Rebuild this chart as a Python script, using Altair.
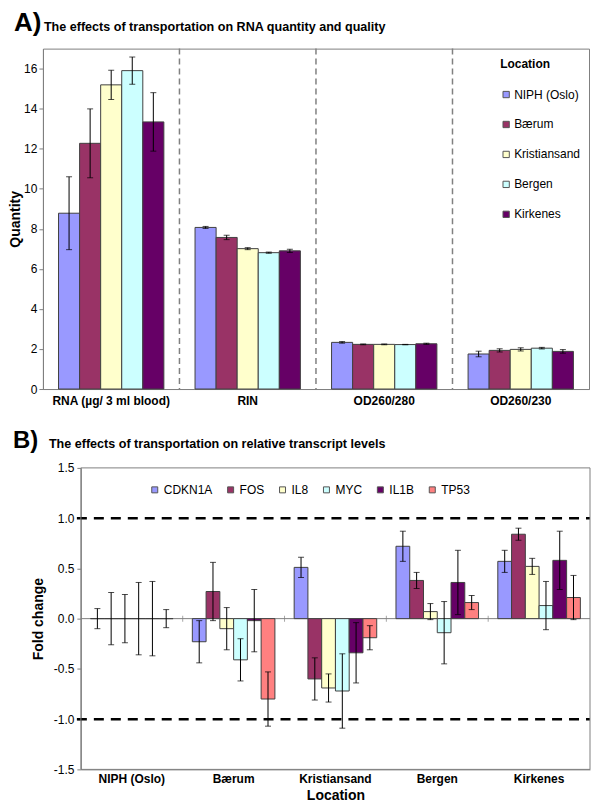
import altair as alt
import pandas as pd

FONT = "Liberation Sans"

# ---------------- Panel A data ----------------
measures = ["RNA (µg/ 3 ml blood)", "RIN", "OD260/280", "OD260/230"]
locations = ["NIPH (Oslo)", "Bærum", "Kristiansand", "Bergen", "Kirkenes"]
location_colors = ["#9999FF", "#993366", "#FFFFCC", "#CCFFFF", "#660066"]

rna_mean = [8.78, 12.27, 15.19, 15.90, 13.34]
rna_err = [1.82, 1.72, 0.73, 0.68, 1.46]
rin_mean = [8.07, 7.57, 7.01, 6.81, 6.90]
rin_err = [0.05, 0.11, 0.05, 0.03, 0.08]
od280_mean = [2.33, 2.23, 2.23, 2.22, 2.26]
od280_err = [0.04, 0.02, 0.02, 0.01, 0.03]
od230_mean = [1.75, 1.93, 1.98, 2.04, 1.88]
od230_err = [0.14, 0.08, 0.08, 0.04, 0.09]
quantity_ticks = [0, 2, 4, 6, 8, 10, 12, 14, 16]

# ---------------- Panel B data ----------------
genes = ["CDKN1A", "FOS", "IL8", "MYC", "IL1B", "TP53"]
gene_colors = ["#9999FF", "#993366", "#FFFFCC", "#CCFFFF", "#660066", "#FF8080"]
fold_niph = [0.0, 0.0, 0.0, 0.0, 0.0, 0.0]
err_niph = [0.10, 0.26, 0.24, 0.36, 0.37, 0.09]
fold_baerum = [-0.23, 0.27, -0.10, -0.41, -0.02, -0.80]
err_baerum = [0.21, 0.29, 0.21, 0.21, 0.31, 0.27]
fold_krs = [0.51, -0.60, -0.69, -0.72, -0.34, -0.19]
err_krs = [0.10, 0.21, 0.14, 0.37, 0.30, 0.12]
fold_bergen = [0.72, 0.38, 0.07, -0.14, 0.36, 0.16]
err_bergen = [0.15, 0.08, 0.08, 0.31, 0.32, 0.07]
fold_kirkenes = [0.57, 0.84, 0.52, 0.13, 0.58, 0.21]
err_kirkenes = [0.11, 0.06, 0.08, 0.24, 0.29, 0.22]
fold_ticks = [-1.5, -1.0, -0.5, 0.0, 0.5, 1.0, 1.5]
thresholds = [1.0, -1.0]

# ---------------- layout constants (pixels) ----------------
A_W, A_H = 547, 341
B_LEFT, B_RIGHT, B_H = 38, 548, 302   # panel B plot sits inside a wider group

# ---------------- tables ----------------
rows_a = []
for m, means, errs in zip(measures,
                          [rna_mean, rin_mean, od280_mean, od230_mean],
                          [rna_err, rin_err, od280_err, od230_err]):
    for loc, v, e in zip(locations, means, errs):
        rows_a.append(dict(measure=m, location=loc, value=v, lo=v - e, hi=v + e))
df_a = pd.DataFrame(rows_a)

rows_b = []
for loc, vals, errs in zip(locations,
                           [fold_niph, fold_baerum, fold_krs, fold_bergen, fold_kirkenes],
                           [err_niph, err_baerum, err_krs, err_bergen, err_kirkenes]):
    for g, v, e in zip(genes, vals, errs):
        rows_b.append(dict(location=loc, gene=g, fold=v, lo=v - e, hi=v + e))
df_b = pd.DataFrame(rows_b)

# ---------------- Panel A ----------------
xa_scale = alt.Scale(domain=measures, paddingInner=0, paddingOuter=0)
xa_axis = alt.Axis(title=None, labelAngle=0, labelFontWeight="bold", labelFontSize=12,
                   ticks=False, labelPadding=6)


def xa(band=None):
    if band is None:
        return alt.X("measure:N", sort=measures, scale=xa_scale, axis=xa_axis)
    return alt.X("measure:N", sort=measures, scale=xa_scale, axis=xa_axis, bandPosition=band)


xoa = alt.XOffset("location:N", sort=locations,
                  scale=alt.Scale(domain=locations, paddingInner=0, paddingOuter=0.74))
ya_scale = alt.Scale(domain=[0, 17], nice=False)
ya_axis = alt.Axis(values=quantity_ticks, title="Quantity", titleFontSize=14,
                   titleFontWeight="bold", labelFontSize=12, tickSize=4, labelPadding=2,
                   minExtent=19, maxExtent=19, titlePadding=1)


def ya(field):
    return alt.Y(field, scale=ya_scale, axis=ya_axis)


sep_a = alt.Chart(pd.DataFrame({"measure": measures[1:]})).mark_rule(
    color="#808080", strokeDash=[6, 4], strokeWidth=1.5
).encode(x=xa(0))

bars_a = alt.Chart(df_a).mark_bar(stroke="#404040", strokeWidth=1).encode(
    x=xa(), xOffset=xoa, y=ya("value:Q"),
    color=alt.Color("location:N", scale=alt.Scale(domain=locations, range=location_colors),
                    legend=alt.Legend(title="Location", orient="none", legendX=458, legendY=10,
                                      direction="vertical", titleFontSize=12,
                                      titleFontWeight="bold", labelFontSize=12,
                                      symbolType="square", symbolSize=40,
                                      symbolStrokeColor="#555555", symbolStrokeWidth=1,
                                      rowPadding=18, titlePadding=18, labelOffset=2)),
)
err_a = alt.Chart(df_a).mark_rule(color="black", strokeWidth=1).encode(
    x=xa(), xOffset=xoa, y=ya("lo:Q"), y2="hi:Q")
cap_lo_a = alt.Chart(df_a).mark_tick(color="black", thickness=1, size=6, orient="horizontal").encode(
    x=xa(), xOffset=xoa, y=ya("lo:Q"))
cap_hi_a = alt.Chart(df_a).mark_tick(color="black", thickness=1, size=6, orient="horizontal").encode(
    x=xa(), xOffset=xoa, y=ya("hi:Q"))

label_a = alt.Chart(pd.DataFrame({"t": ["A)"]})).mark_text(
    align="left", baseline="alphabetic", fontSize=26, fontWeight="bold", font=FONT, color="black"
).encode(text="t:N", x=alt.value(-29), y=alt.value(-18))
title_a = alt.Chart(pd.DataFrame({"t": ["The effects of transportation on RNA quantity and quality"]})).mark_text(
    align="left", baseline="alphabetic", fontSize=12.6, fontWeight="bold", font=FONT, color="black"
).encode(text="t:N", x=alt.value(1), y=alt.value(-18))

panel_a = alt.layer(sep_a, bars_a, err_a, cap_lo_a, cap_hi_a, label_a, title_a).properties(
    width=A_W, height=A_H, view=alt.ViewConfig(stroke="#808080", strokeWidth=1))

# ---------------- Panel B ----------------
xb_scale = alt.Scale(domain=locations, range=[B_LEFT, B_RIGHT], paddingInner=0, paddingOuter=0)
xb_axis = alt.Axis(title="Location", titleFontSize=14, titleFontWeight="bold", labelAngle=0,
                   labelFontWeight="bold", labelFontSize=12, ticks=False, labelPadding=4,
                   titlePadding=4)


def xb(band=None):
    if band is None:
        return alt.X("location:N", sort=locations, scale=xb_scale, axis=xb_axis)
    return alt.X("location:N", sort=locations, scale=xb_scale, axis=xb_axis, bandPosition=band)


xob = alt.XOffset("gene:N", sort=genes,
                  scale=alt.Scale(domain=genes, paddingInner=0, paddingOuter=0.7))
yb_scale = alt.Scale(domain=[-1.5, 1.5], nice=False, zero=False)
yb_axis = alt.Axis(values=fold_ticks, format=".1f",
                   labelExpr="replace(datum.label, '\u2212', '-')",
                   title="Fold change", titleFontSize=14, titleFontWeight="bold",
                   labelFontSize=12, tickSize=4, labelPadding=3, minExtent=28, maxExtent=28,
                   titlePadding=7, offset=-B_LEFT)


def yb(field):
    return alt.Y(field, scale=yb_scale, axis=yb_axis)


frame_b = alt.Chart(pd.DataFrame({"k": [0]})).mark_rect(
    fill="transparent", stroke="#808080", strokeWidth=1
).encode(x=alt.value(B_LEFT), x2=alt.value(B_RIGHT), y=alt.value(0), y2=alt.value(B_H))
zero_b = alt.Chart(pd.DataFrame({"z": [0.0]})).mark_rule(color="#808080", strokeWidth=1).encode(
    y=yb("z:Q"), x=alt.value(B_LEFT), x2=alt.value(B_RIGHT))
zero_ticks_b = alt.Chart(pd.DataFrame({"location": locations[1:], "z": [0.0] * 4})).mark_tick(
    color="#808080", thickness=1, size=6, orient="vertical").encode(x=xb(0), y=yb("z:Q"))
thr_b = alt.Chart(pd.DataFrame({"t": thresholds})).mark_rule(
    color="black", strokeWidth=2.5, strokeDash=[10, 7]
).encode(y=yb("t:Q"), x=alt.value(B_LEFT - 4), x2=alt.value(B_RIGHT))

bars_b = alt.Chart(df_b).mark_bar(stroke="#404040", strokeWidth=1).encode(
    x=xb(), xOffset=xob, y=yb("fold:Q"),
    color=alt.Color("gene:N", scale=alt.Scale(domain=genes, range=gene_colors),
                    legend=alt.Legend(title=None, orient="none", legendX=B_LEFT + 68, legendY=16,
                                      direction="horizontal", labelFontSize=12,
                                      symbolType="square", symbolSize=36,
                                      symbolStrokeColor="#555555", symbolStrokeWidth=1,
                                      labelOffset=3, columnPadding=12)),
)
err_b = alt.Chart(df_b).mark_rule(color="black", strokeWidth=1).encode(
    x=xb(), xOffset=xob, y=yb("lo:Q"), y2="hi:Q")
cap_lo_b = alt.Chart(df_b).mark_tick(color="black", thickness=1, size=6, orient="horizontal").encode(
    x=xb(), xOffset=xob, y=yb("lo:Q"))
cap_hi_b = alt.Chart(df_b).mark_tick(color="black", thickness=1, size=6, orient="horizontal").encode(
    x=xb(), xOffset=xob, y=yb("hi:Q"))

label_b = alt.Chart(pd.DataFrame({"t": ["B)"]})).mark_text(
    align="left", baseline="alphabetic", fontSize=24, fontWeight="bold", font=FONT, color="black"
).encode(text="t:N", x=alt.value(B_LEFT - 68), y=alt.value(-20))
title_b = alt.Chart(pd.DataFrame({"t": ["The effects of transportation on relative transcript levels"]})).mark_text(
    align="left", baseline="alphabetic", fontSize=12.6, fontWeight="bold", font=FONT, color="black"
).encode(text="t:N", x=alt.value(B_LEFT - 32), y=alt.value(-20))

panel_b = alt.layer(zero_b, zero_ticks_b, thr_b, bars_b, err_b, cap_lo_b, cap_hi_b,
                    frame_b, label_b, title_b).properties(
    width=B_RIGHT, height=B_H, view=alt.ViewConfig(stroke="transparent", strokeWidth=0))

chart = alt.vconcat(panel_a, panel_b, spacing=22).resolve_scale(
    color="independent", x="independent", y="independent", xOffset="independent"
).resolve_legend(color="independent").properties(padding=0).configure(
    font=FONT
).configure_axis(
    labelColor="black", titleColor="black", domainColor="#808080", tickColor="#808080",
    grid=False, labelFont=FONT, titleFont=FONT
).configure_legend(
    labelFont=FONT, titleFont=FONT, labelColor="black", titleColor="black"
)

chart.save("out.html", embed_options={"renderer": "svg", "actions": False})
